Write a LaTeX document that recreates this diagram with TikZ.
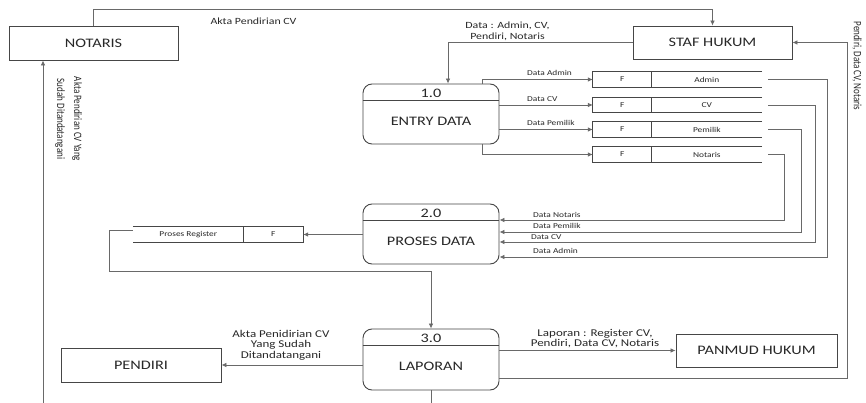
\documentclass[tikz,border=0pt]{standalone}
\usepackage{fontspec}
\setmainfont{Carlito}[FakeStretch=1.25]
\newfontfamily\rotfont{Carlito}
\usetikzlibrary{arrows.meta}
\definecolor{lc}{RGB}{105,105,105}
\definecolor{bc}{RGB}{70,70,70}
\definecolor{tc}{RGB}{40,40,40}
\begin{document}
\begin{tikzpicture}[x=1pt,y=-1pt,
  ext/.style={draw=bc,line width=0.9pt,inner sep=0pt,text=tc,font=\fontsize{13}{15}\selectfont},
  proc/.style={draw=bc,line width=0.9pt,rounded corners=9pt,inner sep=0pt,minimum width=136pt,minimum height=60pt},
  ptxt/.style={inner sep=0pt,text=tc,font=\fontsize{13}{15}\selectfont},
  flow/.style={draw=lc,line width=0.75pt,-{Latex[length=5pt,width=4.5pt]}},
  plain/.style={draw=lc,line width=0.75pt},
  sline/.style={draw=bc,line width=0.8pt},
  store/.style={inner sep=0pt,minimum width=#1,minimum height=15pt},
  lbl/.style={inner sep=0pt,text=tc,font=\fontsize{9.5}{11}\selectfont,align=center},
  mlbl/.style={inner sep=0pt,text=tc,font=\fontsize{10.4}{10.5}\selectfont,align=center},
  sml/.style={inner sep=0pt,text=tc,font=\fontsize{7.5}{9}\selectfont},
  rlbl/.style={inner sep=0pt,text=tc,rotate=-90,yscale=1.25,align=center,font=\rotfont\fontsize{9}{13.6}\selectfont}]
\useasboundingbox (0,0) rectangle (866,403);
\fill[white] (0,0) rectangle (866,403);

% external entities
\node[ext,minimum width=169pt,minimum height=34pt] (notaris) at (93.5,43) {NOTARIS};
\node[ext,minimum width=159pt,minimum height=33pt] (staf) at (712.5,42.5) {STAF HUKUM};
\node[ext,minimum width=160pt,minimum height=34pt] (pendiri) at (141,365) {PENDIRI};
\node[ext,minimum width=161pt,minimum height=33pt] (panmud) at (756.5,350.5) {PANMUD HUKUM};

% processes
\node[proc] (entry) at (431,114) {};
\node[proc] (proses) at (431,234) {};
\node[proc,minimum height=61pt] (lapor) at (431,359.5) {};
\foreach \p in {entry,proses,lapor}{
  \draw[sline] ([yshift=-17pt]\p.north west) -- ([yshift=-17pt]\p.north east);
}
\node[ptxt] (n1) at (431,93) {1.0};
\node[ptxt] (t1) at (431,121) {ENTRY DATA};
\node[ptxt] (n2) at (431,213) {2.0};
\node[ptxt] (t2) at (431,241) {PROSES DATA};
\node[ptxt] (n3) at (431,338) {3.0};
\node[ptxt] (t3) at (431,366) {LAPORAN};

% data stores
\node[store=169pt] (sadmin) at (677.5,79.5) {};
\node[store=169pt] (scv) at (677.5,105) {};
\node[store=169pt] (spem) at (677.5,129.5) {};
\node[store=169pt] (snot) at (677.5,154.5) {};
\foreach \s in {sadmin,scv,spem,snot}{
  \draw[sline] (\s.north east) -- (\s.north west) -- (\s.south west) -- (\s.south east);
  \draw[sline] ([xshift=59pt]\s.north west) -- ([xshift=59pt]\s.south west);
}
\node[sml] (fa) at ([xshift=29.5pt]sadmin.west) {F};
\node[sml] (ta) at ([xshift=114pt]sadmin.west) {Admin};
\node[sml] (fc) at ([xshift=29.5pt]scv.west) {F};
\node[sml] (tc) at ([xshift=114pt]scv.west) {CV};
\node[sml] (fp) at ([xshift=29.5pt]spem.west) {F};
\node[sml] (tp) at ([xshift=114pt]spem.west) {Pemilik};
\node[sml] (fn) at ([xshift=29.5pt]snot.west) {F};
\node[sml] (tn) at ([xshift=114pt]snot.west) {Notaris};

\node[store=170pt] (sreg) at (218,234.5) {};
\draw[sline] (sreg.north west) -- (sreg.north east) -- (sreg.south east) -- (sreg.south west);
\draw[sline] ([xshift=111pt]sreg.north west) -- ([xshift=111pt]sreg.south west);
\node[sml] (treg) at ([xshift=55.5pt]sreg.west) {Proses Register};
\node[sml] (freg) at ([xshift=140.5pt]sreg.west) {F};

% coordinates for bends
\coordinate (kt) at (0,9);
\coordinate (ka) at (827,257);
\coordinate (kc) at (815,242);
\coordinate (kp) at (801,232);
\coordinate (kn) at (784,220);
\coordinate (kr) at (109,271);
\coordinate (ks) at (847,378);
\coordinate (kb) at (431,403);
\coordinate (kl) at (43,403);

% flows
\draw[flow] (notaris.north) -- (notaris.north |- kt) -| (staf.north);
\draw[flow] (staf.west) -| ([xshift=17pt]entry.north);
\draw[flow] ([xshift=51pt]entry.north) |- (sadmin.west);
\draw[flow] (entry.east |- scv.west) -- (scv.west);
\draw[flow] (entry.east |- spem.west) -- (spem.west);
\draw[flow] ([xshift=51pt]entry.south) |- (snot.west);

\draw[flow] ([xshift=6pt]sadmin.east) -| (ka) -- (proses.east |- ka);
\draw[flow] ([xshift=6pt]scv.east) -| (kc) -- (proses.east |- kc);
\draw[flow] ([xshift=6pt]spem.east) -| (kp) -- (proses.east |- kp);
\draw[flow] ([xshift=6pt]snot.east) -| (kn) -- (proses.east |- kn);

\draw[flow] (proses.west |- sreg.east) -- (sreg.east);
\draw[flow] ([yshift=4pt]sreg.west) -| (kr) -| (lapor.north);
\draw[flow] (lapor.west |- pendiri.east) -- (pendiri.east);
\draw[flow] (lapor.east |- panmud.west) -- (panmud.west);
\draw[flow] (lapor.east |- ks) -- (ks) |- (staf.east);
\draw[plain] (lapor.south) -- (kb);
\draw[flow] (kl) -- (kl |- notaris.south);

% labels
\node[lbl] (l1) at (253.5,21.3) {Akta Pendirian CV};
\node[lbl] (l2) at (507.5,31.5) {Data : Admin, CV,\\Pendiri, Notaris};
\node[rlbl] (l3) at (68.5,119) {Akta Pendirian CV Yang\\Sudah Ditandatangani};
\node[rlbl] (l4) at (857,66) {Pendiri, Data CV, Notaris};
\node[sml,anchor=base west] (d1) at (527,76) {Data Admin};
\node[sml,anchor=base west] (d2) at (527,101.5) {Data CV};
\node[sml,anchor=base west] (d3) at (527,126) {Data Pemilik};
\node[sml,anchor=base west] (d4) at (533,217.3) {Data Notaris};
\node[sml,anchor=base west] (d5) at (533,228.5) {Data Pemilik};
\node[sml,anchor=base west] (d6) at (531,239.5) {Data CV};
\node[sml,anchor=base west] (d7) at (533,253.3) {Data Admin};
\node[mlbl] (l5) at (281,345) {Akta Penidirian CV\\Yang Sudah\\Ditandatangani};
\node[mlbl] (l6) at (595,338.5) {Laporan : Register CV,\\Pendiri, Data CV, Notaris};
\end{tikzpicture}
\end{document}
